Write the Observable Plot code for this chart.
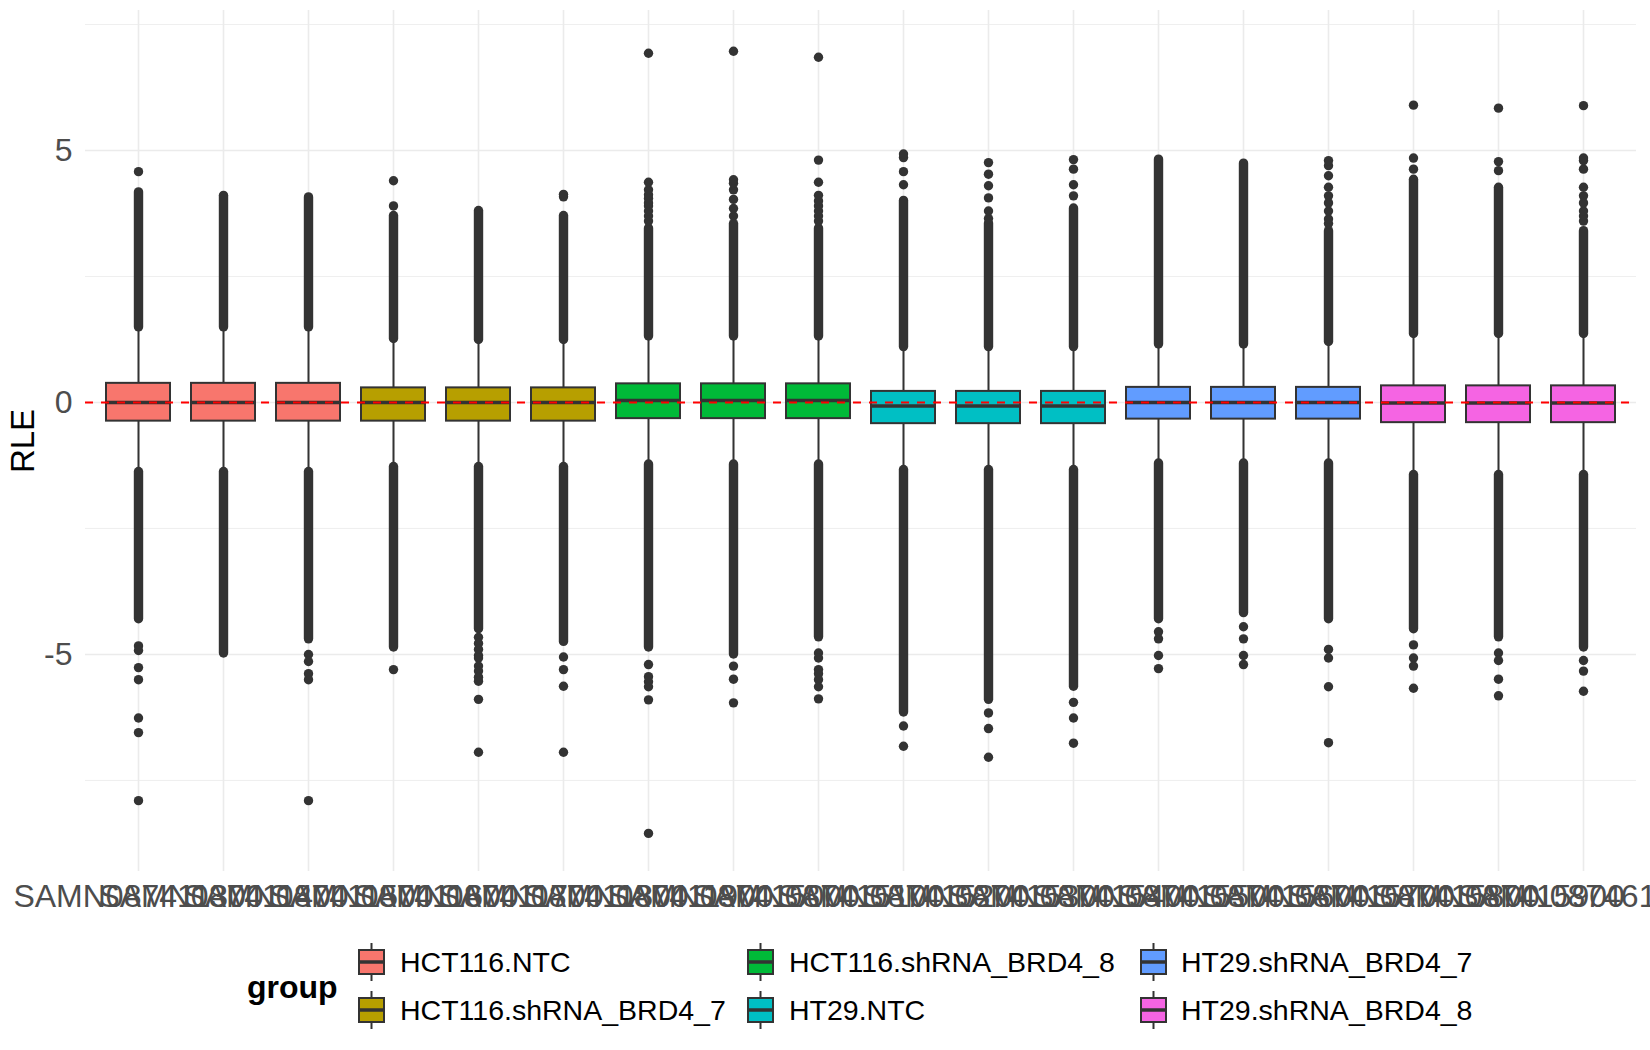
<!DOCTYPE html>
<html>
<head>
<meta charset="utf-8">
<script src="https://cdn.jsdelivr.net/npm/d3@7"></script>
<script src="https://cdn.jsdelivr.net/npm/@observablehq/plot@0.6"></script>
<style>
  body { margin: 0; background: white; font-family: "Liberation Sans", Arial, sans-serif; }
  #legend { position: relative; width: 1650px; height: 125px; }
  #legend .title { position: absolute; font-weight: bold; font-size: 32px; transform: translateY(-50%); color: #000; }
  #legend .key { position: absolute; transform: translateY(-50%); }
  #legend .lab { position: absolute; font-size: 28.5px; transform: translateY(-50%); color: #000; white-space: nowrap; }
</style>
</head>
<body>
<div id="chart"></div>
<div id="legend"></div>
<script>
const FONT = '"Liberation Sans", Arial, sans-serif';

const samples = [
  "SAMN087411300","SAMN087411400","SAMN087411500","SAMN087411600","SAMN087411700","SAMN087411800",
  "SAMN087411900","SAMN087415000","SAMN087415100","SAMN087415200","SAMN087415300","SAMN087415400",
  "SAMN087415500","SAMN087415600","SAMN087415700","SAMN087415800","SAMN087415900","SAMN087461000"
];
const groupNames = ["HCT116.NTC","HCT116.shRNA_BRD4_7","HCT116.shRNA_BRD4_8","HT29.NTC","HT29.shRNA_BRD4_7","HT29.shRNA_BRD4_8"];
const groupColors = ["#F8766D","#B79F00","#00BA38","#00BFC4","#619CFF","#F564E3"];
const sampleGroup = [0,0,0,1,1,1,2,2,2,3,3,3,4,4,4,5,5,5];

const q1        = [-0.37,-0.37,-0.37,-0.37,-0.37,-0.37,-0.32,-0.32,-0.32,-0.42,-0.42,-0.42,-0.33,-0.33,-0.33,-0.40,-0.40,-0.40];
const median    = [0.00,0.00,0.00,0.00,0.00,0.00,0.04,0.04,0.04,-0.07,-0.07,-0.07,0.00,0.00,0.00,-0.01,-0.01,-0.01];
const q3        = [0.38,0.38,0.38,0.29,0.29,0.29,0.37,0.37,0.37,0.22,0.22,0.22,0.30,0.30,0.30,0.33,0.33,0.33];
const whiskerLo = [-1.38,-1.38,-1.38,-1.28,-1.28,-1.28,-1.23,-1.23,-1.23,-1.34,-1.34,-1.34,-1.21,-1.21,-1.21,-1.44,-1.44,-1.44];
const whiskerHi = [1.49,1.49,1.49,1.26,1.24,1.24,1.31,1.31,1.31,1.10,1.10,1.10,1.15,1.15,1.20,1.36,1.36,1.36];

// dense runs of outliers (too many points to separate visually)
const denseUpperTop = [4.17,4.10,4.07,3.70,3.80,3.70,3.45,3.54,3.45,4.00,3.55,3.85,4.82,4.74,3.40,4.42,4.26,3.40];
const denseLowerBottom = [-4.30,-4.98,-4.70,-4.86,-4.50,-4.75,-4.86,-5.00,-4.66,-6.15,-5.90,-5.64,-4.30,-4.18,-4.30,-4.50,-4.66,-4.86];

// individually visible outliers
const sparseOutliers = [
  [4.58,-4.83,-4.92,-5.26,-5.5,-6.26,-6.55,-7.9],
  [],
  [-5.0,-5.14,-5.38,-5.5,-7.9],
  [3.9,4.4,-5.3],
  [-4.66,-4.78,-4.9,-5.02,-5.07,-5.23,-5.33,-5.45,-5.53,-5.89,-6.94],
  [4.08,4.13,-5.05,-5.3,-5.63,-6.94],
  [3.6,3.7,3.8,3.9,3.96,4.05,4.12,4.22,4.37,6.93,-5.2,-5.44,-5.54,-5.64,-5.9,-8.55],
  [3.7,3.85,4.03,4.22,4.35,4.42,6.97,-5.23,-5.49,-5.96],
  [3.6,3.7,3.8,3.9,4.0,4.11,4.37,4.81,6.85,-4.97,-5.07,-5.3,-5.38,-5.5,-5.64,-5.88],
  [4.32,4.58,4.86,4.93,-6.42,-6.82],
  [3.65,3.8,4.06,4.3,4.53,4.76,-6.16,-6.47,-7.04],
  [4.1,4.32,4.63,4.82,-5.95,-6.26,-6.76],
  [-4.55,-4.69,-5.02,-5.28],
  [-4.45,-4.69,-5.02,-5.2],
  [3.55,3.64,3.8,3.96,4.1,4.27,4.5,4.7,4.8,-4.9,-5.07,-5.64,-6.75],
  [4.63,4.85,5.9,-4.81,-5.07,-5.23,-5.67],
  [4.6,4.78,5.84,-4.97,-5.12,-5.49,-5.82],
  [3.6,3.7,3.8,3.96,4.1,4.27,4.63,4.8,4.85,5.89,-5.12,-5.33,-5.73]
];

const yTicks = [-5, 0, 5];
const yMinor = [-7.5, -2.5, 2.5, 7.5];

const rows = samples.map((s, i) => ({
  sample: s, group: groupNames[sampleGroup[i]],
  q1: q1[i], median: median[i], q3: q3[i], lo: whiskerLo[i], hi: whiskerHi[i]
}));
const dense = samples.flatMap((s, i) => [
  {sample: s, a: whiskerHi[i], b: denseUpperTop[i]},
  {sample: s, a: whiskerLo[i], b: denseLowerBottom[i]}
]);
const points = samples.flatMap((s, i) => sparseOutliers[i].map(v => ({sample: s, value: v})));

const INK = "#333333";
const GRID = "#EBEBEB";

const chart = Plot.plot({
  width: 1650, height: 925,
  marginLeft: 85, marginRight: 14, marginTop: 10, marginBottom: 54,
  style: {fontFamily: FONT, background: "white", overflow: "visible"},
  x: {type: "band", domain: samples, paddingInner: 0.25, paddingOuter: 0.225, axis: null},
  y: {domain: [-9.306, 7.778], axis: null},
  color: {domain: groupNames, range: groupColors},
  marks: [
    Plot.ruleY(yMinor, {stroke: GRID, strokeWidth: 0.8}),
    Plot.ruleY(yTicks, {stroke: GRID, strokeWidth: 1.6}),
    Plot.ruleX(samples, {stroke: GRID, strokeWidth: 1.6}),
    Plot.ruleX(rows, {x: "sample", y1: "lo", y2: "q1", stroke: INK, strokeWidth: 2}),
    Plot.ruleX(rows, {x: "sample", y1: "q3", y2: "hi", stroke: INK, strokeWidth: 2}),
    Plot.ruleX(dense, {x: "sample", y1: "a", y2: "b", stroke: INK, strokeWidth: 9.4, strokeLinecap: "round"}),
    Plot.dot(points, {x: "sample", y: "value", r: 4.7, fill: INK, stroke: "none"}),
    Plot.barY(rows, {x: "sample", y1: "q1", y2: "q3", fill: "group", stroke: INK, strokeWidth: 2}),
    Plot.tickY(rows, {x: "sample", y: "median", stroke: INK, strokeWidth: 3.5}),
    Plot.ruleY([0], {stroke: "#FF0000", strokeWidth: 2, strokeDasharray: "8,8"}),
    Plot.axisY({ticks: yTicks, tickSize: 0, tickPadding: 13, fontSize: 32, color: "#4D4D4D",
      tickFormat: d => (d < 0 ? "-" + Math.abs(d) : String(d)), label: null}),
    Plot.axisX({ticks: samples, tickSize: 0, tickPadding: 13, fontSize: 32, color: "#4D4D4D", label: null}),
    Plot.text(["RLE"], {text: d => d, frameAnchor: "left", textAnchor: "middle", lineAnchor: "middle",
      dx: -62, rotate: -90, fontSize: 33, fill: "#000"})
  ]
});
document.getElementById("chart").appendChild(chart);

// legend
const legend = document.getElementById("legend");
const title = document.createElement("div");
title.className = "title"; title.textContent = "group";
title.style.left = "247px"; title.style.top = "62px";
legend.appendChild(title);
const keyX = [358, 747, 1140], labX = [400, 789, 1181], rowY = [37, 85];
groupNames.forEach((g, i) => {
  const c = Math.floor(i / 2), r = i % 2;
  const key = document.createElement("div");
  key.className = "key";
  key.style.left = keyX[c] + "px"; key.style.top = rowY[r] + "px";
  key.innerHTML = `<svg width="27" height="38" style="display:block">
    <line x1="13.5" x2="13.5" y1="0" y2="38" stroke="${INK}" stroke-width="2"/>
    <rect x="1" y="7" width="25" height="24" fill="${groupColors[i]}" stroke="${INK}" stroke-width="2"/>
    <line x1="1" x2="26" y1="19" y2="19" stroke="${INK}" stroke-width="3.5"/></svg>`;
  legend.appendChild(key);
  const lab = document.createElement("div");
  lab.className = "lab"; lab.textContent = g;
  lab.style.left = labX[c] + "px"; lab.style.top = rowY[r] + "px";
  legend.appendChild(lab);
});
</script>
</body>
</html>
